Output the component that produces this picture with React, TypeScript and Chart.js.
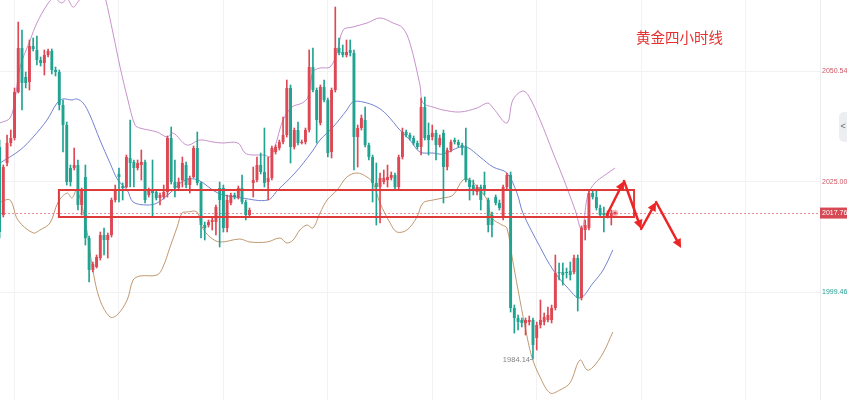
import React, { useEffect, useRef } from 'react';
import { Chart, registerables } from 'chart.js';

Chart.register(...registerables);

// ---- Candles (4h gold), index = candle number ----
const candleOpen = [
  2033.01, 2017.31, 2029.31, 2033.93, 2035.08, 2045.70, 2055.86, 2049.17, 2048.01, 2056.32,
  2055.40, 2053.09, 2052.40, 2054.24, 2055.17, 2050.78, 2050.32, 2042.70, 2038.08, 2028.16,
  2028.16, 2028.85, 2019.62, 2026.08, 2012.00, 2004.61, 2005.31, 2007.38, 2012.69, 2011.54,
  2012.69, 2020.77, 2026.77, 2024.00, 2023.77, 2030.47, 2029.54, 2028.16, 2028.85, 2029.54,
  2021.93, 2023.08, 2022.62, 2021.23, 2021.46, 2022.62, 2035.08, 2024.93, 2023.54, 2025.39,
  2028.85, 2024.23, 2026.08, 2032.78, 2024.70, 2015.00, 2015.00, 2015.69, 2015.69, 2023.54,
  2023.54, 2014.31, 2020.08, 2021.93, 2021.46, 2023.54, 2020.31, 2017.31, 2024.70, 2025.39,
  2028.85, 2027.24, 2024.93, 2025.85, 2031.85, 2032.78, 2034.16, 2035.78, 2046.63, 2033.01,
  2036.93, 2033.93, 2034.16, 2036.93, 2051.47, 2046.16, 2038.55, 2046.86, 2043.86, 2031.85,
  2046.16, 2055.86, 2054.94, 2054.24, 2055.40, 2054.71, 2035.31, 2037.39, 2039.24, 2033.47,
  2030.70, 2024.70, 2023.77, 2024.93, 2025.39, 2025.85, 2026.54, 2023.77, 2030.70, 2036.47,
  2035.78, 2035.08, 2033.93, 2033.01, 2042.24, 2035.78, 2035.31, 2036.24, 2033.47, 2036.24,
  2028.39, 2032.31, 2034.62, 2034.16, 2033.47, 2033.01, 2025.39, 2024.23, 2022.62, 2023.77,
  2024.23, 2020.77, 2017.31, 2021.46, 2020.08, 2016.85, 2023.77, 2026.54, 1995.84, 1993.53,
  1993.07, 1992.38, 1992.61, 1993.07, 1988.92, 1991.92, 1992.61, 1993.07, 1993.07, 1995.84,
  2004.15, 2004.15, 2004.15, 2004.38, 2004.15, 2007.38, 1998.15, 2013.85, 2014.31, 2022.39,
  2021.46, 2018.93, 2017.77, 2017.08, 2017.08,
];
const candleHigh = [
  2034.62, 2028.85, 2035.78, 2036.93, 2046.63, 2061.86, 2060.01, 2050.32, 2057.71, 2058.17,
  2058.63, 2053.78, 2055.40, 2055.63, 2055.63, 2051.47, 2050.78, 2043.86, 2038.78, 2028.85,
  2032.78, 2030.01, 2023.54, 2028.85, 2012.46, 2006.46, 2008.08, 2013.39, 2014.31, 2013.15,
  2021.23, 2024.23, 2028.16, 2024.70, 2031.16, 2039.24, 2030.01, 2030.01, 2032.31, 2030.01,
  2023.54, 2030.01, 2023.08, 2022.39, 2024.23, 2035.55, 2037.62, 2030.01, 2025.85, 2030.70,
  2029.54, 2026.31, 2033.24, 2036.47, 2024.93, 2015.69, 2016.16, 2016.62, 2019.62, 2024.93,
  2024.23, 2021.93, 2022.39, 2022.39, 2024.00, 2026.54, 2020.77, 2018.93, 2028.39, 2030.70,
  2031.62, 2037.39, 2030.70, 2033.24, 2033.47, 2034.62, 2039.93, 2048.47, 2047.32, 2037.39,
  2038.78, 2034.62, 2037.39, 2055.40, 2055.86, 2046.63, 2047.32, 2048.47, 2044.32, 2046.63,
  2065.32, 2058.17, 2056.55, 2057.71, 2057.71, 2055.40, 2038.08, 2040.39, 2042.24, 2033.93,
  2031.16, 2029.31, 2027.00, 2027.70, 2028.85, 2027.24, 2027.00, 2031.16, 2037.39, 2036.93,
  2036.24, 2035.55, 2034.39, 2044.32, 2044.55, 2038.55, 2038.08, 2036.93, 2035.78, 2036.93,
  2032.78, 2034.62, 2035.08, 2034.62, 2033.93, 2037.39, 2025.85, 2025.39, 2024.23, 2024.23,
  2027.24, 2021.23, 2018.00, 2021.93, 2020.77, 2024.23, 2027.00, 2027.24, 1996.53, 1994.23,
  1993.53, 1993.53, 1993.99, 1993.53, 1992.61, 1997.69, 1994.69, 1996.07, 1996.53, 2008.08,
  2006.23, 2006.23, 2005.07, 2006.46, 2008.08, 2008.08, 2014.77, 2016.16, 2022.85, 2023.08,
  2023.08, 2019.62, 2019.16, 2018.23, 2018.46,
];
const candleLow = [
  2012.00, 2016.85, 2028.62, 2033.24, 2034.62, 2045.47, 2041.55, 2046.63, 2046.16, 2055.17,
  2051.94, 2051.70, 2049.63, 2053.78, 2049.86, 2049.40, 2041.55, 2031.85, 2024.23, 2024.00,
  2027.70, 2018.46, 2017.31, 2010.38, 2001.84, 2004.15, 2005.07, 2006.92, 2008.08, 2007.38,
  2012.23, 2020.31, 2020.31, 2020.77, 2023.54, 2023.77, 2023.77, 2027.70, 2025.39, 2020.08,
  2021.46, 2016.85, 2020.77, 2019.62, 2021.00, 2021.46, 2024.47, 2021.46, 2023.08, 2023.77,
  2023.54, 2022.39, 2025.85, 2024.23, 2012.00, 2011.54, 2014.54, 2013.85, 2012.69, 2009.92,
  2013.39, 2013.39, 2019.62, 2021.00, 2021.00, 2019.85, 2016.16, 2016.85, 2021.46, 2024.93,
  2026.77, 2023.77, 2020.77, 2025.39, 2031.39, 2032.31, 2033.70, 2035.31, 2029.31, 2032.54,
  2033.47, 2033.70, 2033.70, 2036.47, 2045.70, 2033.93, 2038.08, 2043.39, 2030.70, 2030.47,
  2045.70, 2054.24, 2053.78, 2053.78, 2054.01, 2027.70, 2028.39, 2036.93, 2033.01, 2030.01,
  2020.31, 2015.00, 2015.46, 2024.47, 2023.77, 2025.39, 2023.31, 2023.08, 2030.24, 2035.31,
  2034.62, 2033.47, 2032.54, 2031.16, 2034.62, 2031.16, 2034.62, 2030.01, 2033.01, 2020.08,
  2027.70, 2031.85, 2033.70, 2033.01, 2031.16, 2024.93, 2020.77, 2021.93, 2021.93, 2018.46,
  2021.93, 2013.39, 2012.23, 2019.62, 2018.46, 2016.16, 2023.31, 1994.92, 1990.07, 1990.76,
  1991.46, 1989.61, 1991.92, 1984.14, 1986.15, 1991.22, 1991.92, 1992.61, 1992.38, 1995.38,
  2002.30, 2001.15, 2002.77, 2002.30, 2003.69, 1995.15, 1997.69, 2011.54, 2013.85, 2021.00,
  2018.46, 2016.85, 2013.39, 2016.62, 2015.00,
];
const candleClose = [
  2013.39, 2028.39, 2033.93, 2035.08, 2045.70, 2055.86, 2047.78, 2047.78, 2056.32, 2055.63,
  2053.09, 2052.40, 2054.24, 2055.17, 2050.78, 2050.32, 2042.70, 2038.08, 2024.93, 2024.93,
  2028.85, 2019.62, 2023.08, 2012.00, 2004.61, 2006.00, 2007.61, 2012.69, 2011.54, 2012.69,
  2020.77, 2023.08, 2026.08, 2023.54, 2030.70, 2029.31, 2028.16, 2029.31, 2029.54, 2020.77,
  2023.08, 2022.39, 2021.23, 2021.93, 2022.62, 2035.08, 2024.93, 2023.54, 2024.93, 2029.31,
  2024.23, 2025.85, 2032.78, 2024.70, 2015.00, 2014.31, 2015.69, 2016.16, 2019.16, 2020.77,
  2014.31, 2020.77, 2021.93, 2021.46, 2023.54, 2020.31, 2017.31, 2018.46, 2025.39, 2028.85,
  2027.24, 2024.70, 2025.85, 2032.78, 2033.01, 2034.16, 2035.78, 2046.63, 2033.01, 2036.93,
  2033.93, 2034.16, 2036.93, 2051.47, 2046.16, 2039.24, 2046.86, 2043.86, 2031.62, 2046.16,
  2055.86, 2054.71, 2054.24, 2054.94, 2054.71, 2035.31, 2037.39, 2039.70, 2033.47, 2030.70,
  2024.70, 2023.77, 2025.85, 2025.85, 2026.08, 2026.54, 2023.77, 2030.70, 2036.47, 2035.78,
  2035.08, 2033.93, 2033.01, 2042.24, 2035.08, 2034.62, 2036.24, 2033.47, 2035.08, 2028.39,
  2032.31, 2034.16, 2034.16, 2033.47, 2032.78, 2025.39, 2023.77, 2023.08, 2023.77, 2020.77,
  2023.08, 2015.00, 2015.00, 2020.08, 2018.93, 2023.77, 2026.54, 1995.84, 1993.53, 1992.61,
  1992.38, 1993.07, 1993.07, 1987.30, 1991.92, 1993.07, 1993.76, 1994.23, 1995.84, 2003.92,
  2003.92, 2003.46, 2003.92, 2003.46, 2007.38, 1998.15, 2014.31, 2015.00, 2022.39, 2021.46,
  2018.93, 2017.31, 2017.31, 2017.77, 2017.76,
];

// ---- Bollinger bands, sampled at candle positions ----
const upperIdx = [0.1, 2.8, 4.1, 5.5, 8.2, 10.0, 12.7, 14.5, 16.7, 18.1, 19.7, 21.0, 22.4, 25.0, 27.5, 28.4,
  30.4, 32.3, 34.4, 36.3, 37.6, 42.2, 44.9, 46.5, 50.2, 53.7, 57.2, 59.6, 63.9, 65.8, 67.7, 71.1, 72.5, 73.8,
  76.0, 78.4, 81.1, 82.7, 84.0, 85.9, 88.6, 90.4, 92.1, 94.7, 98.5, 102.0, 105.5, 108.1, 110.0, 112.7, 113.5,
  116.2, 118.9, 123.4, 128.0, 130.9, 132.3, 136.0, 137.6, 140.1, 141.7, 144.9, 148.4, 151.0, 154.3, 156.1,
  157.7, 159.6, 162.3, 165.0];
const upperVal = [2038.55, 2039.70, 2043.86, 2051.47, 2057.71, 2061.63, 2065.79, 2067.40, 2066.25, 2067.20,
  2065.30, 2066.50, 2068.00, 2070.00, 2069.50, 2067.20, 2059.32, 2051.47, 2043.86, 2038.08, 2037.39, 2036.47,
  2035.32, 2036.24, 2033.47, 2034.62, 2034.16, 2033.93, 2033.93, 2031.62, 2031.16, 2031.16, 2030.70, 2033.01,
  2039.24, 2042.24, 2043.16, 2044.55, 2050.32, 2051.24, 2051.47, 2054.71, 2060.02, 2060.71, 2061.63, 2062.79,
  2061.63, 2060.48, 2057.01, 2047.32, 2043.16, 2042.24, 2041.55, 2041.09, 2042.01, 2043.16, 2042.01, 2038.55,
  2043.86, 2045.93, 2045.01, 2039.24, 2031.62, 2026.08, 2018.46, 2013.85, 2021.93, 2024.70, 2026.54, 2028.16];

const middleIdx = [0.1, 5.5, 9.0, 12.7, 15.4, 17.0, 19.4, 20.7, 22.4, 24.2, 26.9, 29.6, 31.7, 34.2, 35.8, 39.5,
  42.2, 45.7, 49.7, 53.2, 58.5, 65.0, 71.9, 74.6, 79.2, 83.7, 85.9, 89.4, 93.1, 94.7, 97.4, 101.2, 103.9, 107.3,
  110.0, 112.7, 116.2, 118.9, 123.4, 125.3, 128.8, 132.3, 136.0, 138.7, 140.3, 144.9, 148.4, 152.1, 155.6,
  159.1, 161.8, 164.4];
const middleVal = [2029.31, 2032.31, 2035.32, 2039.24, 2043.16, 2044.09, 2043.86, 2044.09, 2043.16, 2040.39,
  2034.62, 2029.31, 2025.39, 2023.08, 2020.31, 2019.62, 2020.08, 2022.39, 2025.39, 2025.39, 2022.39, 2021.24,
  2020.77, 2023.08, 2027.01, 2031.85, 2034.62, 2037.62, 2041.55, 2043.40, 2043.40, 2042.24, 2040.39, 2036.93,
  2034.62, 2031.85, 2031.62, 2031.39, 2033.01, 2033.01, 2030.70, 2028.39, 2027.01, 2022.39, 2017.77, 2009.92,
  2004.61, 2000.69, 1998.15, 2001.61, 2004.61, 2009.23];

const lowerIdx = [0.1, 2.8, 4.9, 9.0, 10.8, 13.5, 15.7, 18.1, 19.4, 20.7, 22.9, 25.0, 26.9, 29.6, 31.5, 34.2,
  35.8, 37.6, 42.2, 43.8, 45.7, 47.6, 48.9, 50.2, 52.9, 54.3, 56.4, 59.1, 64.4, 67.1, 71.7, 75.2, 77.0, 78.7,
  80.5, 82.4, 84.0, 85.9, 87.8, 90.5, 93.1, 95.8, 98.5, 100.1, 102.0, 104.7, 106.5, 109.2, 111.9, 113.5, 116.2,
  118.9, 121.6, 124.2, 126.1, 128.8, 130.7, 132.0, 134.7, 136.0, 137.4, 139.0, 140.9, 142.7, 144.9, 147.6,
  150.2, 152.9, 155.6, 157.5, 159.1, 161.8, 164.4];
const lowerVal = [2020.31, 2020.77, 2016.16, 2013.16, 2013.85, 2015.46, 2020.31, 2022.39, 2021.24, 2023.08,
  2016.16, 2004.61, 1997.69, 1993.77, 1994.23, 1997.69, 2002.31, 2003.23, 2003.46, 2005.31, 2009.92, 2014.54,
  2017.77, 2018.00, 2018.00, 2014.54, 2012.23, 2011.08, 2011.77, 2011.08, 2011.08, 2012.00, 2010.85, 2011.54,
  2013.85, 2015.00, 2014.31, 2017.77, 2020.77, 2023.08, 2026.08, 2027.01, 2026.08, 2024.70, 2020.08, 2015.46,
  2013.39, 2013.85, 2016.85, 2020.08, 2020.77, 2021.24, 2021.93, 2025.39, 2025.39, 2023.08, 2020.77, 2016.62,
  2015.00, 2014.31, 2007.61, 2000.00, 1991.46, 1984.53, 1979.91, 1976.22, 1976.91, 1978.53, 1983.84, 1981.53,
  1982.22, 1985.45, 1990.30];

// ---- Axis / annotations ----
const yTickValues = [2050.54, 2025.0, 1999.46, 1973.93];
const xGridValues = [4, 32, 60, 88, 116, 144, 172, 200];
const lastPrice = 2017.76;
const zoneX = [15.9, 170.1];
const zoneY = [2023.08, 2016.85];
const arrowX = [162.8, 167.4, 172.0, 176.0, 182.7];
const arrowY = [2017.31, 2025.16, 2014.08, 2020.31, 2009.69];
const titleText = '黄金四小时线';

const X_MIN = 0.107;
const X_MAX = 219.95;
const Y_MIN = 1974.61;
const Y_MAX = 2066.94;

const UP = 'rgb(221,72,84)';
const DOWN = 'rgb(34,163,146)';

function drawArrow(ctx: CanvasRenderingContext2D, x0: number, y0: number, x1: number, y1: number) {
  const ang = Math.atan2(y1 - y0, x1 - x0);
  const head = 9;
  const hw = 4.5;
  const bx = x1 - head * Math.cos(ang);
  const by = y1 - head * Math.sin(ang);
  ctx.beginPath();
  ctx.moveTo(x0, y0);
  ctx.lineTo(bx, by);
  ctx.stroke();
  ctx.beginPath();
  ctx.moveTo(x1, y1);
  ctx.lineTo(bx + hw * Math.sin(ang), by - hw * Math.cos(ang));
  ctx.lineTo(bx - hw * Math.sin(ang), by + hw * Math.cos(ang));
  ctx.closePath();
  ctx.fill();
}

const overlayPlugin = {
  id: 'overlay',
  beforeDatasetsDraw(chart: any) {
    const { ctx, chartArea, scales } = chart;
    const py = Math.round(scales.y.getPixelForValue(lastPrice)) + 0.5;
    ctx.save();
    ctx.strokeStyle = 'rgba(222,110,120,0.75)';
    ctx.lineWidth = 1;
    ctx.setLineDash([2, 2]);
    ctx.beginPath();
    ctx.moveTo(chartArea.left, py);
    ctx.lineTo(chartArea.right, py);
    ctx.stroke();
    ctx.restore();
  },
  afterDatasetsDraw(chart: any) {
    const { ctx, scales } = chart;
    const xs = scales.x;
    const ys = scales.y;
    ctx.save();
    // zone rectangle
    const rx0 = xs.getPixelForValue(zoneX[0]);
    const rx1 = xs.getPixelForValue(zoneX[1]);
    const ry0 = ys.getPixelForValue(zoneY[0]);
    const ry1 = ys.getPixelForValue(zoneY[1]);
    ctx.strokeStyle = 'rgb(222,58,58)';
    ctx.lineWidth = 2;
    ctx.strokeRect(rx0, ry0, rx1 - rx0, ry1 - ry0);

    // forecast arrows
    ctx.strokeStyle = 'rgb(236,38,38)';
    ctx.fillStyle = 'rgb(236,38,38)';
    ctx.lineWidth = 2.5;
    ctx.lineCap = 'round';
    for (let i = 0; i < arrowX.length - 1; i++) {
      drawArrow(ctx,
        xs.getPixelForValue(arrowX[i]), ys.getPixelForValue(arrowY[i]),
        xs.getPixelForValue(arrowX[i + 1]), ys.getPixelForValue(arrowY[i + 1]));
    }

    // last price dot
    const lx = xs.getPixelForValue(candleClose.length);
    const ly = ys.getPixelForValue(lastPrice);
    ctx.fillStyle = 'rgba(236,100,110,0.45)';
    ctx.beginPath();
    ctx.arc(lx, ly, 3.2, 0, Math.PI * 2);
    ctx.fill();
    ctx.fillStyle = 'rgb(230,70,80)';
    ctx.beginPath();
    ctx.arc(lx, ly, 1.5, 0, Math.PI * 2);
    ctx.fill();

    // lowest low label
    let minI = 0;
    for (let i = 1; i < candleLow.length; i++) if (candleLow[i] < candleLow[minI]) minI = i;
    const mx = xs.getPixelForValue(minI);
    const my = ys.getPixelForValue(candleLow[minI]);
    ctx.fillStyle = 'rgb(130,130,130)';
    ctx.font = '7.5px "Liberation Sans", Arial, sans-serif';
    ctx.textAlign = 'right';
    ctx.textBaseline = 'middle';
    ctx.fillText(candleLow[minI].toFixed(2), mx - 3, my + 1.5);
    ctx.strokeStyle = 'rgb(150,150,150)';
    ctx.lineWidth = 1;
    ctx.setLineDash([1, 1]);
    ctx.beginPath();
    ctx.moveTo(mx - 2.5, Math.round(my) + 0.5);
    ctx.lineTo(mx, Math.round(my) + 0.5);
    ctx.stroke();
    ctx.setLineDash([]);

    // title
    ctx.fillStyle = 'rgb(228,50,50)';
    ctx.font = '14.5px "Noto Sans CJK SC", sans-serif';
    ctx.textAlign = 'left';
    ctx.textBaseline = 'middle';
    ctx.fillText(titleText, chart.chartArea.left + 636, 37);
    ctx.restore();
  },
  afterDraw(chart: any) {
    const { ctx, chartArea, scales, width } = chart;
    const py = scales.y.getPixelForValue(lastPrice);
    ctx.save();
    ctx.fillStyle = 'rgb(214,72,84)';
    ctx.fillRect(chartArea.right, py - 5.5, width - chartArea.right, 11);
    ctx.fillStyle = '#ffffff';
    ctx.font = '7px "Liberation Sans", Arial, sans-serif';
    ctx.textAlign = 'left';
    ctx.textBaseline = 'middle';
    ctx.fillText(lastPrice.toFixed(2), chartArea.right + 2, py + 0.5);
    // side collapse button
    ctx.fillStyle = '#eceef2';
    ctx.beginPath();
    const bx = width - 8, by = 112, bw = 12, bh = 30, r = 5;
    ctx.moveTo(bx + r, by);
    ctx.lineTo(bx + bw, by);
    ctx.lineTo(bx + bw, by + bh);
    ctx.lineTo(bx + r, by + bh);
    ctx.arcTo(bx, by + bh, bx, by + bh - r, r);
    ctx.lineTo(bx, by + r);
    ctx.arcTo(bx, by, bx + r, by, r);
    ctx.closePath();
    ctx.fill();
    ctx.fillStyle = '#666';
    ctx.font = '9px "Liberation Sans", Arial, sans-serif';
    ctx.fillText('<', bx + 1.5, by + bh / 2);
    ctx.restore();
  },
};

export default function App() {
  const canvasRef = useRef<HTMLCanvasElement | null>(null);

  useEffect(() => {
    if (!canvasRef.current) return;
    const colors = candleOpen.map((o, i) => (candleClose[i] >= o ? UP : DOWN));
    const bodies = candleOpen.map((o, i) => ({ x: i, y: [o, candleClose[i]] }));
    const wicks = candleLow.map((l, i) => ({ x: i, y: [l, candleHigh[i]] }));
    const line = (idx: number[], vals: number[]) => idx.map((x, i) => ({ x, y: vals[i] }));

    const chart = new Chart(canvasRef.current, {
      type: 'bar',
      data: {
        datasets: [
          {
            type: 'bar',
            label: 'body',
            data: bodies as any,
            backgroundColor: colors,
            borderWidth: 0,
            grouped: false,
            barPercentage: 0.78,
            categoryPercentage: 1,
            minBarLength: 1,
            order: 0,
          } as any,
          {
            type: 'bar',
            label: 'wick',
            data: wicks as any,
            backgroundColor: colors,
            borderWidth: 0,
            grouped: false,
            barThickness: 1,
            order: 1,
          } as any,
          {
            type: 'line',
            label: 'upper',
            data: line(upperIdx, upperVal) as any,
            borderColor: 'rgba(196,140,200,0.95)',
            borderWidth: 1,
            pointRadius: 0,
            tension: 0.35,
            fill: false,
            order: 2,
          } as any,
          {
            type: 'line',
            label: 'middle',
            data: line(middleIdx, middleVal) as any,
            borderColor: 'rgba(108,124,206,0.95)',
            borderWidth: 1,
            pointRadius: 0,
            tension: 0.35,
            fill: false,
            order: 2,
          } as any,
          {
            type: 'line',
            label: 'lower',
            data: line(lowerIdx, lowerVal) as any,
            borderColor: 'rgba(190,148,104,0.95)',
            borderWidth: 1,
            pointRadius: 0,
            tension: 0.35,
            fill: false,
            order: 2,
          } as any,
        ],
      },
      options: {
        responsive: true,
        maintainAspectRatio: false,
        animation: false,
        layout: { padding: 0 },
        plugins: {
          legend: { display: false },
          tooltip: { enabled: false },
          title: { display: false },
        },
        scales: {
          x: {
            type: 'linear',
            min: X_MIN,
            max: X_MAX,
            offset: false,
            grid: { color: '#f2f2f4', drawTicks: false, offset: false },
            border: { display: false },
            ticks: { display: false },
            afterBuildTicks: (s: any) => {
              s.ticks = xGridValues.map((v) => ({ value: v }));
            },
            afterFit: (s: any) => {
              s.height = 0;
            },
          },
          y: {
            position: 'right',
            min: Y_MIN,
            max: Y_MAX,
            grid: { color: '#f2f2f4', drawTicks: false },
            border: { display: true, color: '#ececee' },
            ticks: {
              padding: 2,
              font: { size: 7, family: '"Liberation Sans", Arial, sans-serif' },
              color: (c: any) => (c.tick && c.tick.value > lastPrice ? 'rgb(206,86,100)' : 'rgb(38,160,146)'),
              callback: (v: any) => Number(v).toFixed(2),
            },
            afterBuildTicks: (s: any) => {
              s.ticks = yTickValues.map((v) => ({ value: v }));
            },
            afterFit: (s: any) => {
              s.width = 27;
              s.paddingTop = 0;
              s.paddingBottom = 0;
            },
          },
        },
      } as any,
      plugins: [overlayPlugin],
    });
    return () => chart.destroy();
  }, []);

  return (
    <div style={{ position: 'fixed', left: 0, top: 0, width: 847, height: 400, background: '#ffffff' }}>
      <canvas ref={canvasRef} />
    </div>
  );
}
